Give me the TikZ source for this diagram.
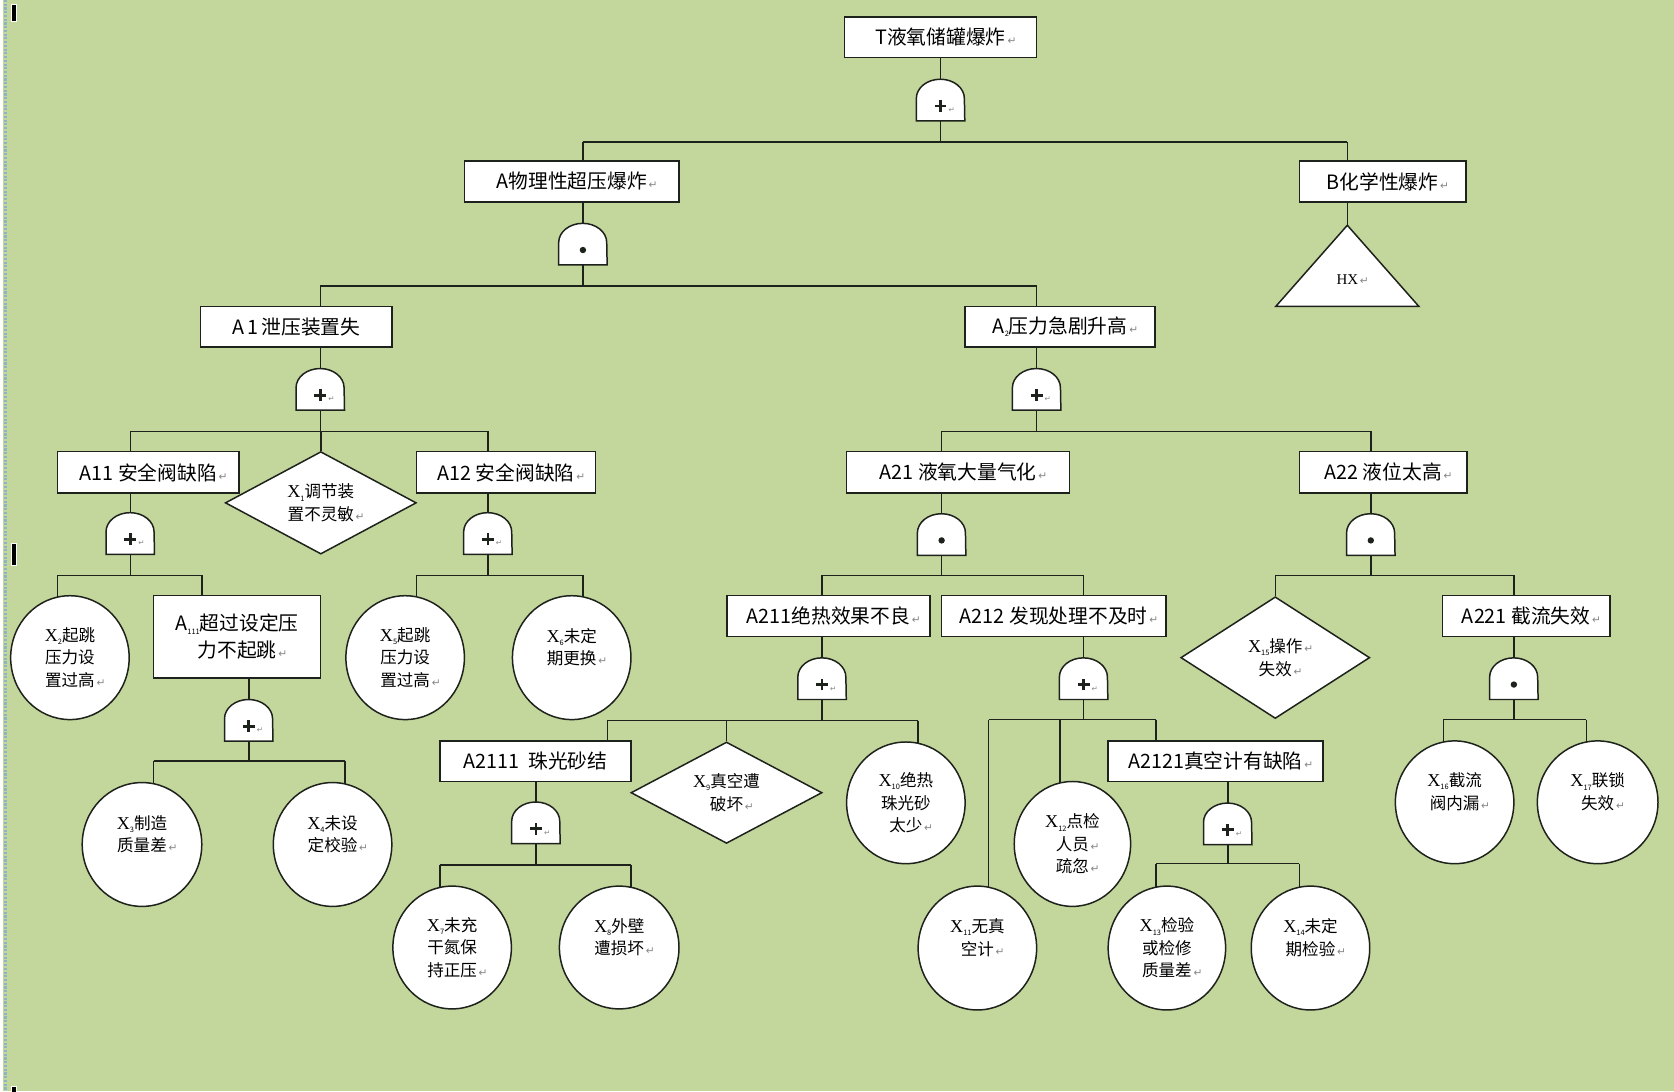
\documentclass[tikz,border=0pt]{standalone}
\usepackage{fontspec}
\setmainfont{Noto Sans CJK SC}
\newfontfamily\djv{DejaVu Sans}
\newfontfamily\lser{Liberation Serif}
\usetikzlibrary{shapes.geometric}
\definecolor{bggreen}{RGB}{195,214,155}
\definecolor{lc}{RGB}{30,34,28}
\definecolor{rtgray}{RGB}{135,135,135}
\definecolor{edgeblue}{RGB}{140,180,195}
\pgfdeclarelayer{bglayer}
\pgfdeclarelayer{lines}
\pgfsetlayers{bglayer,lines,main}

\newcommand\sbs[1]{\raisebox{-0.35ex}{\fontsize{7}{7}\selectfont #1}}
\newcommand\rtn{\rlap{\djv\fontsize{10}{10}\selectfont\color{rtgray}\,↵}}
\newcommand\xv[1]{{\lser\fontsize{17}{21}\selectfont X}\sbs{#1}}

\tikzset{
  conn/.style={draw=lc, line width=1.4pt},
  evbox/.style={draw=lc, fill=white, line width=1.4pt, rectangle, inner sep=0pt,
    minimum height=38pt, font=\fontsize{18.5}{22}\selectfont, align=center},
  basic/.style={draw=lc, fill=white, line width=1.4pt, ellipse, inner sep=0pt,
    minimum width=111pt, minimum height=116pt,
    font=\fontsize{15.5}{21}\selectfont, align=center},
  undev/.style={draw=lc, fill=white, line width=1.4pt, diamond, inner sep=0pt,
    font=\fontsize{15.5}{21}\selectfont, align=center},
  gatebox/.style={rectangle, inner sep=0pt, minimum width=45pt, minimum height=39pt},
  gateline/.style={draw=lc, fill=white, line width=1.4pt},
  plusline/.style={draw=lc, line width=2.6pt},
}

\newcommand\gateshape[3]{% name, cx, bottom y
  \node[gatebox] (#1) at (#2,#3-19.5) {};
  \draw[gateline] (#1.south west) -- ++(0pt,21pt)
    arc[start angle=180, end angle=0, x radius=22.5pt, y radius=18pt]
    -- (#1.south east) -- cycle;
}
\newcommand\orgt[3]{%
  \gateshape{#1}{#2}{#3}
  \draw[plusline] ([xshift=-5.5pt,yshift=14pt]#1.south) -- ([xshift=5.5pt,yshift=14pt]#1.south);
  \draw[plusline] ([yshift=8.5pt]#1.south) -- ([yshift=19.5pt]#1.south);
  \node[inner sep=0pt, font=\djv\fontsize{7}{7}\selectfont, text=rtgray] at ([xshift=10.5pt,yshift=10pt]#1.south) {↵};
}
\newcommand\andgt[3]{%
  \gateshape{#1}{#2}{#3}
  \fill[lc] ([yshift=14pt]#1.south) circle[radius=3pt];
}

\begin{document}
\begin{tikzpicture}[x=1pt, y=-1pt]
\useasboundingbox (0,0) rectangle (1568,1022);
\begin{pgfonlayer}{bglayer}
  \fill[bggreen] (0,0) rectangle (1568,1022);
  \fill[white] (0,0) rectangle (3,1022);
  \draw[edgeblue, line width=2.5pt, dash pattern=on 2pt off 1.5pt] (5,0) -- (5,1022);
  \filldraw[fill=black, draw=white, line width=0.8pt] (11,4) rectangle (15,20);
  \filldraw[fill=black, draw=white, line width=0.8pt] (11,509) rectangle (15,530);
  \filldraw[fill=black, draw=white, line width=0.8pt] (11,1018) rectangle (15,1023);
\end{pgfonlayer}

% ---------- event boxes ----------
\node[evbox, minimum width=180pt] (T) at (881,35) {T液氧储罐爆炸\rtn};
\node[evbox, minimum width=201pt] (A) at (535.5,170) {A物理性超压爆炸\rtn};
\node[evbox, minimum width=156pt] (B) at (1295,170) {B化学性爆炸\rtn};
\node[evbox, minimum width=179pt] (A1) at (277.5,306) {A\,1\,泄压装置失};
\node[evbox, minimum width=178pt] (A2) at (993,306) {A\sbs{2}压力急剧升高\rtn};
\node[evbox, minimum width=170pt, minimum height=39pt] (A11) at (139,442.5) {A11 安全阀缺陷\rtn};
\node[evbox, minimum width=168pt, minimum height=39pt] (A12) at (474,442.5) {A12 安全阀缺陷\rtn};
\node[evbox, minimum width=209pt, minimum height=39pt] (A21) at (897.5,442.5) {A21 液氧大量气化\rtn};
\node[evbox, minimum width=157pt, minimum height=39pt] (A22) at (1295.5,442.5) {A22 液位太高\rtn};
\node[evbox, minimum width=156pt, minimum height=77pt, font=\fontsize{18.5}{25}\selectfont] (A111) at (222,596.5) {A\sbs{111}超过设定压\\力不起跳\rtn};
\node[evbox, minimum width=190pt] (A211) at (776,577) {A211绝热效果不良\rtn};
\node[evbox, minimum width=210pt] (A212) at (987,577) {A212 发现处理不及时\rtn};
\node[evbox, minimum width=157pt] (A221) at (1429.5,577) {A221 截流失效\rtn};
\node[evbox, minimum width=179pt] (A2111) at (501.5,713) {A2111\ \ 珠光砂结};
\node[evbox, minimum width=201pt] (A2121) at (1138.5,713) {A2121真空计有缺陷\rtn};

% ---------- undeveloped event ----------
\draw[gateline] (1262,211) coordinate (tri) -- (1329,287) -- (1195,287) -- cycle;
\node[inner sep=0pt, font=\lser\fontsize{14}{14}\selectfont] (hx) at (1262,262) {HX\rtn};

% ---------- basic events ----------
\node[basic] (X2) at (65.5,616) {\xv{2}起跳\\压力设\\置过高\rtn};
\node[basic] (X5) at (379.5,616) {\xv{5}起跳\\压力设\\置过高\rtn};
\node[basic] (X6) at (535.5,616) {\xv{6}未定\\期更换\rtn\\\mbox{}};
\node[basic, minimum width=112pt] (X3) at (133,791) {\xv{3}制造\\质量差\rtn\\\mbox{}};
\node[basic] (X4) at (311.5,791) {\xv{4}未设\\定校验\rtn\\\mbox{}};
\node[basic, minimum height=114pt] (X10) at (848.5,752) {\xv{10}绝热\\珠光砂\\太少\rtn};
\node[basic, minimum height=115pt] (X7) at (423.5,887.5) {\xv{7}未充\\干氮保\\持正压\rtn};
\node[basic, minimum width=112pt, minimum height=115pt] (X8) at (580,887.5) {\xv{8}外壁\\遭损坏\rtn\\\mbox{}};
\node[basic] (X11) at (915.5,888) {\xv{11}无真\\空计\rtn\\\mbox{}};
\node[basic, minimum width=109pt, minimum height=117pt] (X12) at (1004.5,790.5) {\xv{12}点检\\人员\rtn\\疏忽\rtn};
\node[basic, minimum width=110pt] (X13) at (1093,888) {\xv{13}检验\\或检修\\质量差\rtn};
\node[basic] (X14) at (1227.5,888) {\xv{14}未定\\期检验\rtn\\\mbox{}};
\node[basic, minimum height=115pt] (X16) at (1362.5,751.5) {\xv{16}截流\\阀内漏\rtn\\\mbox{}};
\node[basic, minimum width=113pt, minimum height=115pt] (X17) at (1496.5,751.5) {\xv{17}联锁\\失效\rtn\\\mbox{}};

% ---------- diamonds ----------
\node[undev, aspect=2, minimum width=179pt, minimum height=96pt] (X1) at (300.5,471) {\xv{1}调节装\\置不灵敏\rtn};
\node[undev, aspect=2, minimum width=179pt, minimum height=95pt] (X9) at (680.5,742.5) {\xv{9}真空遭\\破坏\rtn};
\node[undev, aspect=1.5, minimum width=177pt, minimum height=114pt] (X15) at (1194.5,616) {\xv{15}操作\rtn\\失效\rtn};

% ---------- gates ----------
\orgt{GT}{881}{113}
\andgt{GA}{546}{248}
\orgt{GA1}{300}{384}
\orgt{GA2}{971}{384}
\orgt{GA11}{122}{519}
\orgt{GA12}{457}{519}
\andgt{GA21}{882}{520}
\andgt{GA22}{1284}{520}
\orgt{GA111}{233}{694}
\orgt{GA211}{770}{655}
\orgt{GA212}{1015}{655}
\andgt{GA221}{1418}{655}
\orgt{GA2111}{502}{790}
\orgt{GA2121}{1150}{791}

% ---------- connectors ----------
\begin{pgfonlayer}{lines}
  % top
  \coordinate (bT) at (881,133);
  \draw[conn] (T.south) -- (GT.north);
  \draw[conn] (GT.south) -- (bT);
  \draw[conn] (bT -| GA) -- (bT -| tri);
  \draw[conn] (bT -| GA) -- (A.north -| GA);
  \draw[conn] (A.south -| GA) -- (GA.north);
  \draw[conn] (bT -| tri) -- (B.north -| tri);
  \draw[conn] (B.south -| tri) -- (tri);
  % A
  \coordinate (bA) at (546,268);
  \draw[conn] (GA.south) -- (bA);
  \draw[conn] (bA -| GA1) -- (bA -| GA2);
  \draw[conn] (bA -| GA1) -- (A1.north -| GA1);
  \draw[conn] (A1.south -| GA1) -- (GA1.north);
  \draw[conn] (bA -| GA2) -- (A2.north -| GA2);
  \draw[conn] (A2.south -| GA2) -- (GA2.north);
  % A1
  \coordinate (bA1) at (300,404);
  \draw[conn] (GA1.south) -- (bA1);
  \draw[conn] (bA1 -| GA11) -- (bA1 -| GA12);
  \draw[conn] (bA1 -| GA11) -- (A11.north -| GA11);
  \draw[conn] (A11.south -| GA11) -- (GA11.north);
  \draw[conn] (bA1 -| X1) -- (X1.north);
  \draw[conn] (bA1 -| GA12) -- (A12.north -| GA12);
  \draw[conn] (A12.south -| GA12) -- (GA12.north);
  % A11
  \coordinate (bA11) at (122,539);
  \coordinate (dX2) at (54,539);
  \coordinate (dA111) at (189,539);
  \draw[conn] (GA11.south) -- (bA11);
  \draw[conn] (dX2) -- (dA111);
  \draw[conn] (dX2) -- (dX2 |- X2.center);
  \draw[conn] (dA111) -- (dA111 |- A111.north);
  \draw[conn] (A111.south -| GA111) -- (GA111.north);
  % A111
  \coordinate (bA111) at (233,713);
  \coordinate (dX3) at (144,713);
  \coordinate (dX4) at (323,713);
  \draw[conn] (GA111.south) -- (bA111);
  \draw[conn] (dX3) -- (dX4);
  \draw[conn] (dX3) -- (dX3 |- X3.center);
  \draw[conn] (dX4) -- (dX4 |- X4.center);
  % A12
  \coordinate (bA12) at (457,539);
  \coordinate (dX5) at (390,539);
  \coordinate (dX6) at (546,539);
  \draw[conn] (GA12.south) -- (bA12);
  \draw[conn] (dX5) -- (dX6);
  \draw[conn] (dX5) -- (dX5 |- X5.center);
  \draw[conn] (dX6) -- (dX6 |- X6.center);
  % A2
  \coordinate (bA2) at (971,404);
  \draw[conn] (GA2.south) -- (bA2);
  \draw[conn] (bA2 -| GA21) -- (bA2 -| GA22);
  \draw[conn] (bA2 -| GA21) -- (A21.north -| GA21);
  \draw[conn] (A21.south -| GA21) -- (GA21.north);
  \draw[conn] (bA2 -| GA22) -- (A22.north -| GA22);
  \draw[conn] (A22.south -| GA22) -- (GA22.north);
  % A21
  \coordinate (bA21) at (882,539);
  \draw[conn] (GA21.south) -- (bA21);
  \draw[conn] (bA21 -| GA211) -- (bA21 -| GA212);
  \draw[conn] (bA21 -| GA211) -- (A211.north -| GA211);
  \draw[conn] (A211.south -| GA211) -- (GA211.north);
  \draw[conn] (bA21 -| GA212) -- (A212.north -| GA212);
  \draw[conn] (A212.south -| GA212) -- (GA212.north);
  % A22
  \coordinate (bA22) at (1284,539);
  \draw[conn] (GA22.south) -- (bA22);
  \draw[conn] (bA22 -| X15) -- (bA22 -| GA221);
  \draw[conn] (bA22 -| X15) -- (X15.north);
  \draw[conn] (bA22 -| GA221) -- (A221.north -| GA221);
  \draw[conn] (A221.south -| GA221) -- (GA221.north);
  % A211
  \coordinate (bA211) at (770,675);
  \coordinate (dA2111) at (569,675);
  \coordinate (dX10) at (860,675);
  \draw[conn] (GA211.south) -- (bA211);
  \draw[conn] (dA2111) -- (dX10);
  \draw[conn] (dA2111) -- (dA2111 |- A2111.north);
  \draw[conn] (bA211 -| X9) -- (X9.north);
  \draw[conn] (dX10) -- (dX10 |- X10.center);
  \draw[conn] (A2111.south -| GA2111) -- (GA2111.north);
  % A2111
  \coordinate (bA2111) at (502,810);
  \coordinate (dX7) at (412,810);
  \coordinate (dX8) at (591,810);
  \draw[conn] (GA2111.south) -- (bA2111);
  \draw[conn] (dX7) -- (dX8);
  \draw[conn] (dX7) -- (dX7 |- X7.center);
  \draw[conn] (dX8) -- (dX8 |- X8.center);
  % A212
  \coordinate (bA212) at (1015,674);
  \coordinate (dX11) at (926,674);
  \coordinate (dX12) at (993,674);
  \coordinate (dA2121) at (1083,674);
  \draw[conn] (GA212.south) -- (bA212);
  \draw[conn] (dX11) -- (dA2121);
  \draw[conn] (dX11) -- (dX11 |- X11.center);
  \draw[conn] (dX12) -- (dX12 |- X12.center);
  \draw[conn] (dA2121) -- (dA2121 |- A2121.north);
  \draw[conn] (A2121.south -| GA2121) -- (GA2121.north);
  % A2121
  \coordinate (bA2121) at (1150,809);
  \coordinate (dX13) at (1083,809);
  \coordinate (dX14) at (1217,809);
  \draw[conn] (GA2121.south) -- (bA2121);
  \draw[conn] (dX13) -- (dX14);
  \draw[conn] (dX13) -- (dX13 |- X13.center);
  \draw[conn] (dX14) -- (dX14 |- X14.center);
  % A221
  \coordinate (bA221) at (1418,674);
  \coordinate (dX16) at (1352,674);
  \coordinate (dX17) at (1486,674);
  \draw[conn] (GA221.south) -- (bA221);
  \draw[conn] (dX16) -- (dX17);
  \draw[conn] (dX16) -- (dX16 |- X16.center);
  \draw[conn] (dX17) -- (dX17 |- X17.center);
\end{pgfonlayer}
\end{tikzpicture}
\end{document}
